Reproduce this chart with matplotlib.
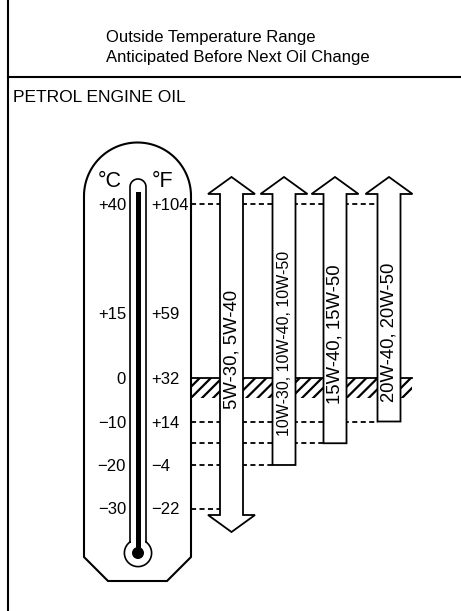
import numpy as np
import matplotlib.pyplot as plt
from matplotlib.patches import Polygon, Rectangle, Circle

plt.rcParams['font.family'] = ['Liberation Sans', 'DejaVu Sans']
plt.rcParams['hatch.linewidth'] = 1.6

# oil grades and the outside temperature range (deg C) each one covers
grades = ["5W-30, 5W-40", "10W-30, 10W-40, 10W-50", "15W-40, 15W-50", "20W-40, 20W-50"]
low_c = [-30, -20, -15, -10]
high_c = [40, 40, 40, 40]
open_below = [True, False, False, False]

# thermometer scale
scale_c = [40, 15, 0, -10, -20, -30]
scale_c_text = ["+40", "+15", "0", "\u221210", "\u221220", "\u221230"]
scale_f_text = ["+104", "+59", "+32", "+14", "\u22124", "\u221222"]

# hatched freezing band (deg C)
band_top, band_bottom = 0, -4.6

# layout (pixels)
W, H = 461, 611
PX_PER_C = 4.35
Y_ZERO = 378
arrow_x = [231.5, 284, 335, 389]
label_c = [6.5, 8, 10, 10.5]
label_size = [13.3, 11.5, 13.3, 13.3]
SHAFT_HW, HEAD_HW = 11.5, 23.5
THERMO_L, THERMO_R = 84, 191

fig = plt.figure(figsize=(W / 100, H / 100), dpi=100)

# decoration axes in pixel units
deco = fig.add_axes([0, 0, 1, 1])
deco.set_xlim(0, W)
deco.set_ylim(H, 0)
deco.axis('off')

# data axes: x in pixels, y in deg C
ax = fig.add_axes([0, 0, 1, 1])
ax.set_xlim(0, W)
ax.set_ylim((Y_ZERO - H) / PX_PER_C, Y_ZERO / PX_PER_C)
ax.axis('off')
ax.patch.set_visible(False)

# frame
deco.plot([8, 8], [0, H], color='k', lw=1.5)
deco.plot([8, W], [77, 77], color='k', lw=1.5)

deco.text(106, 42, "Outside Temperature Range", fontsize=12, va='baseline')
deco.text(106, 62, "Anticipated Before Next Oil Change", fontsize=12, va='baseline')
deco.text(13, 102, "PETROL ENGINE OIL", fontsize=12.5, va='baseline')

# thermometer body
cx, cy, r = (THERMO_L + THERMO_R) / 2, 196, (THERMO_R - THERMO_L) / 2
t = np.radians(np.linspace(180, 360, 60))
body = [(THERMO_L, 557)] + list(zip(cx + r * np.cos(t), cy + r * np.sin(t))) + \
       [(THERMO_R, 557), (167, 581), (108, 581)]
deco.add_patch(Polygon(body, closed=True, fc='white', ec='k', lw=1.5, joinstyle='miter'))

# tube and bulb outline
tx, tr, ty = 138, 8, 187
bx, by = 138, 553
br = np.hypot(8, 11)
ta = np.radians(np.linspace(180, 360, 30))
ba = np.radians(np.linspace(-54, 234, 80))
tube_x = np.concatenate([[tx - tr], tx + tr * np.cos(ta), [tx + tr], bx + br * np.cos(ba), [tx - tr]])
tube_y = np.concatenate([[542], ty + tr * np.sin(ta), [542], by + br * np.sin(ba), [542]])
deco.plot(tube_x, tube_y, color='k', lw=1.2)
deco.add_patch(Rectangle((135.5, 192), 5, by - 192, fc='k', ec='none'))
deco.add_patch(Circle((bx, by), 6, fc='k', ec='none'))

deco.text(98, 187, "\u00b0C", fontsize=15.5, va='baseline')
deco.text(152, 187, "\u00b0F", fontsize=15.5, va='baseline')

for c, ct, ft in zip(scale_c, scale_c_text, scale_f_text):
    ax.text(126, c, ct, ha='right', va='center_baseline', fontsize=12)
    ax.text(151, c, ft, ha='left', va='center_baseline', fontsize=12)

# freezing band
ax.add_patch(Rectangle((THERMO_R, band_bottom), 412 - THERMO_R, band_top - band_bottom,
                       fill=False, hatch='///', ec='k', lw=0, zorder=1))
ax.plot([THERMO_R, 412], [band_top, band_top], color='k', lw=1.3, zorder=1)

# dashed guide lines from the thermometer to each arrow end
for level in sorted(set(low_c + high_c)):
    ends = [x - SHAFT_HW for x, lo, hi in zip(arrow_x, low_c, high_c) if level in (lo, hi)]
    ax.plot([THERMO_R, max(ends)], [level, level], color='k', lw=1.3,
            dashes=(2.8, 1.9), zorder=1)

# grade arrows
for x, lo, hi, down, name, lc, fs in zip(arrow_x, low_c, high_c, open_below,
                                         grades, label_c, label_size):
    shaft_top = hi + 10 / PX_PER_C
    tip_top = hi + 27 / PX_PER_C
    bottom = lo - 6.5 / PX_PER_C if down else lo
    pts = [(x - SHAFT_HW, bottom), (x - SHAFT_HW, shaft_top), (x - HEAD_HW, shaft_top),
           (x, tip_top), (x + HEAD_HW, shaft_top), (x + SHAFT_HW, shaft_top),
           (x + SHAFT_HW, bottom)]
    if down:
        tip_bottom = bottom - 17 / PX_PER_C
        pts += [(x + HEAD_HW, bottom), (x, tip_bottom), (x - HEAD_HW, bottom)]
    ax.add_patch(Polygon(pts, closed=True, fc='white', ec='k', lw=1.3,
                         joinstyle='miter', zorder=3))
    ax.text(x, lc, name, rotation=90, ha='center', va='center', fontsize=fs, zorder=4)

fig.savefig("out.png", dpi=100)
